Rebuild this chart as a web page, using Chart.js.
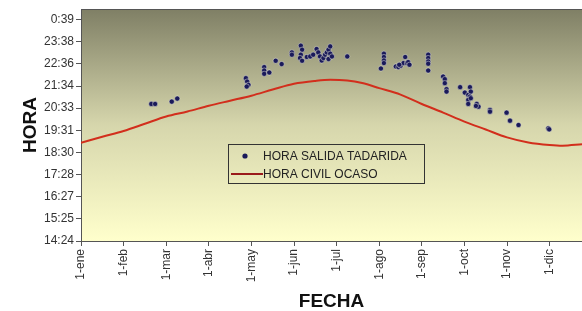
<!DOCTYPE html>
<html><head><meta charset="utf-8">
<script src="https://cdn.jsdelivr.net/npm/chart.js@4/dist/chart.umd.min.js"></script>
<style>html,body{margin:0;padding:0;background:#fff;overflow:hidden;}#wrap{width:582px;height:311px;position:relative;overflow:hidden;}canvas{display:block;}</style>
</head><body><div id="wrap"><canvas id="c" width="582" height="311"></canvas></div>
<script>
// X axis: position in months (0 = 1-ene)
const monthLabels = ['1-ene','1-feb','1-mar','1-abr','1-may','1-jun','1-jul','1-ago','1-sep','1-oct','1-nov','1-dic'];
const monthTicks = [0,1,2,3,4,5,6,7,8,9,10,11];
// Y axis: minutes since 0:00 of the day
const timeLabels = ['14:24','15:25','16:27','17:28','18:30','19:31','20:33','21:34','22:36','23:38','0:39'];
const timeTicks = [864, 925.56, 987.12, 1048.68, 1110.24, 1171.8, 1233.36, 1294.92, 1356.48, 1418.04, 1479.6];

// HORA SALIDA TADARIDA
const salidaX = [1.65,1.74,2.13,2.26,
  3.87,3.90,3.93,3.89,4.30,4.30,4.30,4.42,4.57,4.71,
  4.95,4.95,5.16,5.19,5.16,5.14,5.19,5.30,5.38,5.45,5.53,5.57,5.61,5.65,5.69,5.73,5.77,5.81,5.85,5.85,5.81,5.89,6.25,
  7.04,7.11,7.11,7.11,7.11,7.39,7.45,7.50,7.57,7.61,7.65,7.68,7.71,7.47,
  8.15,8.15,8.15,8.15,8.15,8.50,8.54,8.54,8.58,8.58,
  8.90,9.01,9.09,9.13,9.15,9.13,9.09,9.09,9.15,9.29,9.33,9.27,9.60,9.60,9.99,10.07,10.27,10.97,10.99];
const salidaY = [1245,1245,1251.5,1260,
  1316.8,1307.3,1298.1,1293.4,1347.5,1338,1328.8,1332.5,1365.1,1355.9,
  1388.3,1381.9,1407,1395.8,1381.9,1372.7,1365.1,1375.5,1377.1,1381.9,1397.8,1388.3,1377.1,1366,1372.7,1381.9,1388.3,1395.8,1405,1384.7,1369.9,1377.1,1377.1,
  1343.6,1384.7,1375.5,1366,1358.7,1349.2,1347.5,1351.2,1358.7,1375.5,1358.7,1361.5,1354,1354,
  1381.9,1372.7,1363.2,1356.8,1338,1321.3,1314,1302.9,1286.1,1279.4,
  1291.7,1276.6,1270.2,1291.7,1279.4,1265.5,1256.3,1245.1,1261,1245.1,1237.5,1239.5,1228.3,1223.6,1220.8,1198.5,1186.5,1177.2,1174.5];

// HORA CIVIL OCASO
const ocasoX = [0,0.5,1,1.5,2,2.5,3,3.5,4,4.5,5,5.5,5.85,6.25,6.6,7,7.5,8,8.5,9,9.5,10,10.5,11,11.3,11.76];
const ocasoY = [1137,1154,1170,1190,1210,1224,1240,1254,1268,1285,1301,1309,1312,1310,1303,1289,1271,1245,1221,1196,1174,1152,1138,1131,1129,1133];

const FONT = 'Liberation Sans, Arial, sans-serif';

const bgPlugin = {
  id: 'bg',
  beforeDraw(chart) {
    const {ctx, chartArea: a} = chart;
    const g = ctx.createLinearGradient(0, a.top, 0, a.bottom);
    g.addColorStop(0, '#7f7f65');
    g.addColorStop(0.5, '#d6d6ac');
    g.addColorStop(1, '#ffffcc');
    ctx.save();
    ctx.fillStyle = g;
    ctx.fillRect(a.left, a.top, a.right - a.left, a.bottom - a.top);
    ctx.strokeStyle = '#555';
    ctx.lineWidth = 1;
    ctx.beginPath();
    ctx.moveTo(a.left, a.top + 0.5);
    ctx.lineTo(a.right, a.top + 0.5);
    ctx.stroke();
    ctx.restore();
  }
};

const legendPlugin = {
  id: 'boxLegend',
  afterDraw(chart) {
    const ctx = chart.ctx;
    const ds = chart.data.datasets;
    ctx.save();
    ctx.strokeStyle = '#333';
    ctx.lineWidth = 1;
    ctx.strokeRect(228.5, 144.5, 196, 39);
    ctx.fillStyle = '#1a1a5a';
    ctx.beginPath();
    ctx.arc(245, 156, 2.6, 0, Math.PI * 2);
    ctx.fill();
    ctx.strokeStyle = '#9a1b1b';
    ctx.lineWidth = 2;
    ctx.beginPath();
    ctx.moveTo(231, 174);
    ctx.lineTo(263, 174);
    ctx.stroke();
    ctx.fillStyle = '#222';
    ctx.font = '12px ' + FONT;
    ctx.textBaseline = 'middle';
    ctx.textAlign = 'left';
    ctx.fillText(ds[0].label, 263, 156.5);
    ctx.fillText(ds[1].label, 263, 174.5);
    ctx.restore();
  }
};

new Chart(document.getElementById('c'), {
  type: 'scatter',
  data: {
    datasets: [
      {
        label: 'HORA SALIDA TADARIDA',
        data: salidaX.map((x, i) => ({x: x, y: salidaY[i]})),
        pointRadius: 2.6,
        pointBackgroundColor: '#1a1a5a',
        pointBorderColor: 'rgba(235,235,220,0.6)',
        pointBorderWidth: 0.8,
        order: 1
      },
      {
        label: 'HORA CIVIL OCASO',
        type: 'line',
        data: ocasoX.map((x, i) => ({x: x, y: ocasoY[i]})),
        borderColor: '#d22e1c',
        borderWidth: 2,
        pointRadius: 0,
        cubicInterpolationMode: 'monotone',
        fill: false,
        order: 2
      }
    ]
  },
  options: {
    responsive: false,
    animation: false,
    devicePixelRatio: 1,
    layout: {autoPadding: false, padding: {top: 9, left: 0, right: 0, bottom: 0}},
    plugins: {legend: {display: false}, tooltip: {enabled: false}},
    scales: {
      x: {
        type: 'linear', min: 0, max: 11.76,
        afterBuildTicks: s => { s.ticks = monthTicks.map(v => ({value: v})); },
        afterFit: s => { s.height = 70; s.paddingRight = 0; s.paddingLeft = 0; },
        ticks: {
          callback: v => monthLabels[monthTicks.indexOf(v)],
          maxRotation: 90, minRotation: 90, autoSkip: false,
          font: {family: FONT, size: 12}, color: '#333', padding: 3
        },
        grid: {drawOnChartArea: false, tickLength: 5, color: '#555'},
        border: {color: '#555', width: 1},
        title: {display: true, text: 'FECHA', color: '#111',
          font: {family: FONT, size: 19, weight: 'bold', lineHeight: 1},
          padding: {top: 0, bottom: 0}}
      },
      y: {
        type: 'linear', min: 864, max: 1509,
        afterBuildTicks: s => { s.ticks = timeTicks.map(v => ({value: v})); },
        afterFit: s => { s.width = 81; s.paddingTop = 0; s.paddingBottom = 0; },
        ticks: {
          callback: v => timeLabels[timeTicks.indexOf(v)],
          autoSkip: false,
          font: {family: FONT, size: 12}, color: '#333', padding: 2
        },
        grid: {drawOnChartArea: false, tickLength: 5, color: '#555'},
        border: {color: '#555', width: 1},
        title: {display: true, text: 'HORA', color: '#111',
          font: {family: FONT, size: 19, weight: 'bold', lineHeight: 1},
          padding: {top: 21, bottom: 0}}
      }
    }
  },
  plugins: [bgPlugin, legendPlugin]
});
</script>
</body></html>
